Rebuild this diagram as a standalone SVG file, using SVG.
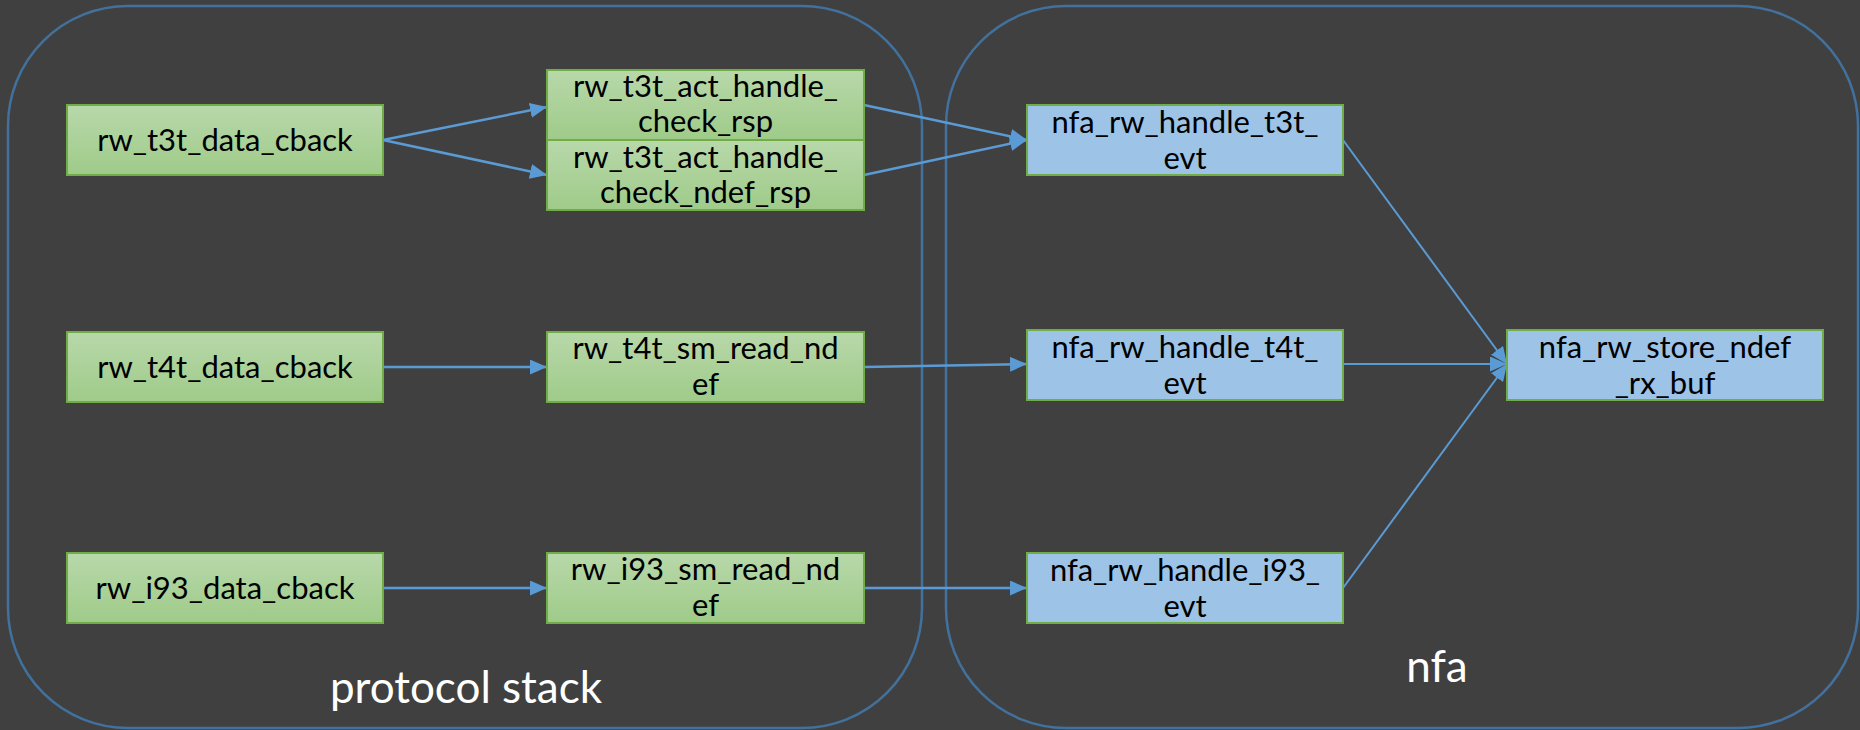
<svg xmlns="http://www.w3.org/2000/svg" width="1860" height="730" viewBox="0 0 1860 730">
<style>
.bg{fill:#404040}
.cont{fill:none;stroke:#41719c;stroke-width:2.5}
.g{fill:url(#gg);stroke:#70ad47;stroke-width:2}
.b{fill:#9dc3e6;stroke:#70ad47;stroke-width:2}
.t{font-family:Lato,"Liberation Sans",sans-serif;font-size:31px;fill:#000;text-anchor:middle}
.lbl{font-family:Lato,"Liberation Sans",sans-serif;font-size:44px;fill:#fff;text-anchor:middle}
.c{fill:none;stroke:#5b9bd5;stroke-width:2.5;marker-end:url(#ah)}
.c2{fill:none;stroke:#5b9bd5;stroke-width:2;marker-end:url(#ah)}
</style>
<defs>
<linearGradient id="gg" x1="0" y1="0" x2="0" y2="1">
<stop offset="0" stop-color="#b8d8aa"/>
<stop offset="1" stop-color="#9fcb89"/>
</linearGradient>
<marker id="ah" markerUnits="userSpaceOnUse" markerWidth="17" markerHeight="15" refX="17" refY="7.5" orient="auto">
<path d="M0,0 L17,7.5 L0,15 z" fill="#5b9bd5"/>
</marker>
</defs>
<rect class="bg" x="0" y="0" width="1860" height="730"/>
<g id="protocol-stack">
<rect class="cont" x="8" y="6" width="914" height="722" rx="120" ry="120"/>
<text class="lbl" x="466" y="703">protocol stack</text>
</g>
<g id="nfa">
<rect class="cont" x="946" y="6" width="912" height="722" rx="120" ry="120"/>
<text class="lbl" x="1437" y="682">nfa</text>
</g>
<g id="connectors">
<line class="c" x1="383" y1="140" x2="547" y2="107"/>
<line class="c" x1="383" y1="140" x2="547" y2="175"/>
<line class="c" x1="864" y1="105" x2="1027" y2="140"/>
<line class="c" x1="864" y1="175" x2="1027" y2="140"/>
<line class="c" x1="383" y1="367" x2="547" y2="367"/>
<line class="c" x1="864" y1="367" x2="1027" y2="364"/>
<line class="c" x1="383" y1="588" x2="547" y2="588"/>
<line class="c" x1="864" y1="588" x2="1027" y2="588"/>
<line class="c2" x1="1343" y1="140" x2="1507" y2="364"/>
<line class="c2" x1="1343" y1="364" x2="1507" y2="364"/>
<line class="c2" x1="1343" y1="588" x2="1507" y2="364"/>
</g>
<g id="rw_t3t_data_cback">
<rect class="g" x="67" y="105" width="316" height="70"/>
<text class="t" x="225" y="151">rw_t3t_data_cback</text>
</g>
<g id="rw_t3t_act_handle_check_rsp">
<rect class="g" x="547" y="70" width="317" height="70"/>
<text class="t" x="705.5" y="97">rw_t3t_act_handle_</text>
<text class="t" x="705.5" y="132">check_rsp</text>
</g>
<g id="rw_t3t_act_handle_check_ndef_rsp">
<rect class="g" x="547" y="140" width="317" height="70"/>
<text class="t" x="705.5" y="168">rw_t3t_act_handle_</text>
<text class="t" x="705.5" y="203">check_ndef_rsp</text>
</g>
<g id="rw_t4t_data_cback">
<rect class="g" x="67" y="332" width="316" height="70"/>
<text class="t" x="225" y="378">rw_t4t_data_cback</text>
</g>
<g id="rw_t4t_sm_read_ndef">
<rect class="g" x="547" y="332" width="317" height="70"/>
<text class="t" x="705.5" y="359">rw_t4t_sm_read_nd</text>
<text class="t" x="705.5" y="395">ef</text>
</g>
<g id="rw_i93_data_cback">
<rect class="g" x="67" y="553" width="316" height="70"/>
<text class="t" x="225" y="599">rw_i93_data_cback</text>
</g>
<g id="rw_i93_sm_read_ndef">
<rect class="g" x="547" y="553" width="317" height="70"/>
<text class="t" x="705.5" y="580">rw_i93_sm_read_nd</text>
<text class="t" x="705.5" y="616">ef</text>
</g>
<g id="nfa_rw_handle_t3t_evt">
<rect class="b" x="1027" y="105" width="316" height="70"/>
<text class="t" x="1185" y="133">nfa_rw_handle_t3t_</text>
<text class="t" x="1185" y="169">evt</text>
</g>
<g id="nfa_rw_handle_t4t_evt">
<rect class="b" x="1027" y="330" width="316" height="70"/>
<text class="t" x="1185" y="358">nfa_rw_handle_t4t_</text>
<text class="t" x="1185" y="394">evt</text>
</g>
<g id="nfa_rw_handle_i93_evt">
<rect class="b" x="1027" y="553" width="316" height="70"/>
<text class="t" x="1185" y="581">nfa_rw_handle_i93_</text>
<text class="t" x="1185" y="617">evt</text>
</g>
<g id="nfa_rw_store_ndef_rx_buf">
<rect class="b" x="1507" y="330" width="316" height="70"/>
<text class="t" x="1665" y="358">nfa_rw_store_ndef</text>
<text class="t" x="1665" y="394">_rx_buf</text>
</g>
</svg>
